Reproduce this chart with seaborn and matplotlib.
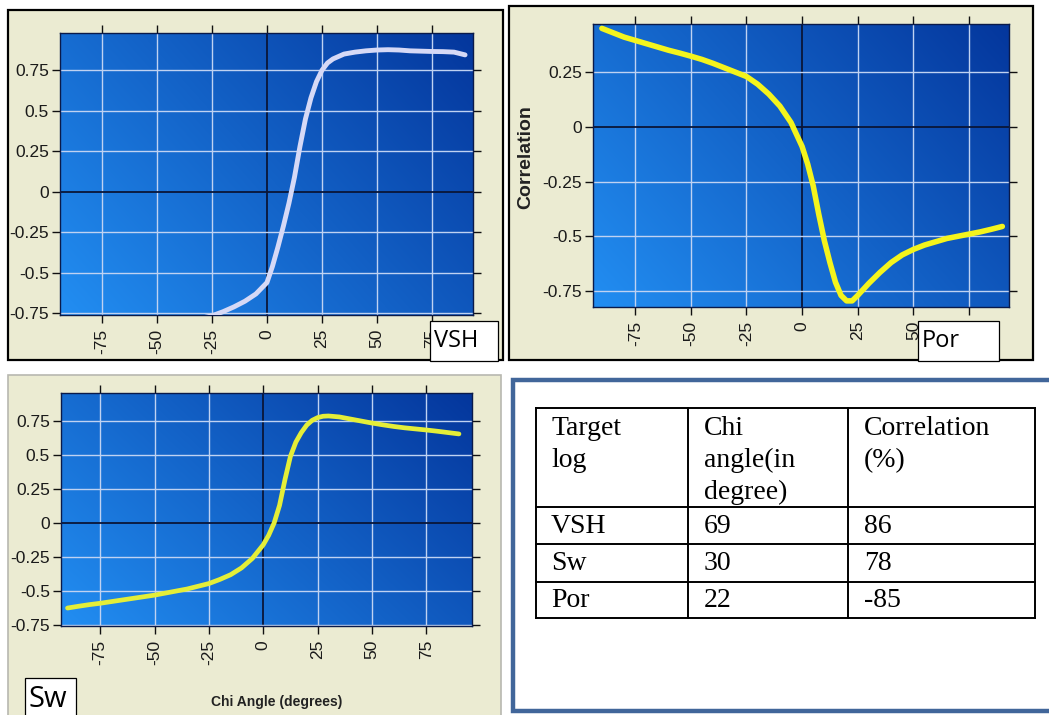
import numpy as np
import pandas as pd
import matplotlib
matplotlib.use("Agg")
import matplotlib.pyplot as plt
from matplotlib import font_manager
from matplotlib.patches import Rectangle
from matplotlib.ticker import FuncFormatter, FixedLocator
import seaborn as sns

# Correlation of the rotated attribute with each target log versus chi angle (degrees)
chi_vsh = [-35, -30, -25, -20, -15, -10, -5, 0, 2.5, 5, 7.5, 10, 12.5, 15, 17.5, 20,
           22.5, 25, 27.5, 30, 35, 40, 45, 50, 55, 60, 65, 70, 75, 80, 85, 90]
corr_vsh = [-0.80, -0.78, -0.765, -0.74, -0.71, -0.675, -0.63, -0.56, -0.46, -0.34, -0.21,
            -0.07, 0.09, 0.28, 0.45, 0.58, 0.68, 0.75, 0.795, 0.82, 0.85, 0.862, 0.87,
            0.875, 0.877, 0.875, 0.87, 0.868, 0.866, 0.865, 0.862, 0.845]

chi_por = [-90, -85, -80, -75, -70, -65, -60, -55, -50, -45, -40, -35, -30, -25, -20, -15,
           -10, -5, 0, 2.5, 5, 7.5, 10, 12.5, 15, 17.5, 20, 22.5, 25, 30, 35, 40, 45, 50,
           55, 60, 65, 70, 75, 80, 85, 90]
corr_por = [0.45, 0.43, 0.41, 0.395, 0.38, 0.365, 0.35, 0.337, 0.323, 0.308, 0.29, 0.27,
            0.25, 0.23, 0.195, 0.15, 0.095, 0.02, -0.09, -0.17, -0.27, -0.40, -0.52, -0.62,
            -0.71, -0.77, -0.795, -0.795, -0.77, -0.715, -0.665, -0.62, -0.585, -0.56,
            -0.54, -0.525, -0.51, -0.50, -0.49, -0.48, -0.468, -0.455]

chi_sw = [-90, -85, -80, -75, -70, -65, -60, -55, -50, -45, -40, -35, -30, -25, -20, -15,
          -10, -5, 0, 2.5, 5, 7.5, 10, 12.5, 15, 17.5, 20, 22.5, 25, 27.5, 30, 35, 40, 45,
          50, 55, 60, 65, 70, 75, 80, 85, 90]
corr_sw = [-0.625, -0.612, -0.60, -0.59, -0.578, -0.566, -0.554, -0.542, -0.53, -0.515,
           -0.50, -0.485, -0.465, -0.445, -0.415, -0.38, -0.33, -0.26, -0.16, -0.09, 0.0,
           0.13, 0.32, 0.49, 0.595, 0.665, 0.72, 0.755, 0.775, 0.785, 0.787, 0.78, 0.765,
           0.75, 0.735, 0.722, 0.71, 0.70, 0.692, 0.684, 0.675, 0.665, 0.655]

x_ticks = [-75, -50, -25, 0, 25, 50, 75]
y_ticks = [-0.75, -0.5, -0.25, 0, 0.25, 0.5, 0.75]

# Summary table: best chi angle and correlation per target log
table_header = [["Target", "log"], ["Chi", "angle(in", "degree)"], ["Correlation", "(%)"]]
table_logs = ["VSH", "Sw", "Por"]
table_chi = [69, 30, 22]
table_corr = [86, 78, -85]

sns.set_theme(style="white")
names = {f.name for f in font_manager.fontManager.ttflist}
tick_font = "Liberation Sans Narrow" if "Liberation Sans Narrow" in names else "Liberation Sans"
tick_size = 14 if tick_font == "Liberation Sans Narrow" else 12.5
plt.rcParams["font.family"] = ["Liberation Sans", "DejaVu Sans"]

W, H = 1049, 715
fig = plt.figure(figsize=(W / 100, H / 100), dpi=100)
fig.patch.set_facecolor("white")


def rect(x0, y0, x1, y1):
    return [x0 / W, 1 - y1 / H, (x1 - x0) / W, (y1 - y0) / H]


# background layer: panel frames
back = fig.add_axes([0, 0, 1, 1], zorder=0)
back.set_xlim(0, W)
back.set_ylim(H, 0)
back.axis("off")
beige = "#EBEBD2"
back.add_patch(Rectangle((8, 10), 495, 350, facecolor=beige, edgecolor="black", lw=1.6))
back.add_patch(Rectangle((509, 6), 524, 354, facecolor=beige, edgecolor="black", lw=1.6))
back.add_patch(Rectangle((8, 375), 493, 345, facecolor=beige, edgecolor="#B8B8B0", lw=1.2))

light = np.array([34, 142, 242]) / 255
dark = np.array([4, 54, 156]) / 255


def panel(box, xs, ys, color, lw, xlim, ylim):
    ax = fig.add_axes(rect(*box), zorder=2)
    n = 200
    gx, gy = np.meshgrid(np.linspace(0, 1, n), np.linspace(0, 1, n))
    t = np.clip(0.62 * gx + 0.38 * gy, 0, 1)[..., None]
    ax.imshow(light + (dark - light) * t, extent=(0, 1, 0, 1), transform=ax.transAxes,
              origin="lower", aspect="auto", zorder=0, interpolation="bilinear")
    for v in x_ticks:
        ax.axvline(v, color="#0A1638" if v == 0 else "#BFD2F2", lw=1.3 if v == 0 else 1.0, zorder=1)
    for v in y_ticks:
        ax.axhline(v, color="#0A1638" if v == 0 else "#BFD2F2", lw=1.3 if v == 0 else 1.0, zorder=1)
    df = pd.DataFrame({"chi": xs, "corr": ys})
    sns.lineplot(data=df, x="chi", y="corr", ax=ax, color=color, lw=lw, zorder=3,
                 solid_capstyle="round")
    ax.set_xlim(*xlim)
    ax.set_ylim(*ylim)
    ax.xaxis.set_major_locator(FixedLocator(x_ticks))
    ax.yaxis.set_major_locator(FixedLocator(y_ticks))
    ax.yaxis.set_major_formatter(FuncFormatter(lambda v, _: f"{v:g}"))
    ax.xaxis.set_major_formatter(FuncFormatter(lambda v, _: f"{v:g}"))
    ax.tick_params(axis="both", which="major", direction="out", length=6, width=1,
                   color="#111111", top=True, right=True, bottom=True, left=True,
                   labelsize=tick_size, labelcolor="#1A1A1A", pad=2)
    ax.tick_params(axis="x", pad=4, labelrotation=90)
    for lab in ax.get_xticklabels() + ax.get_yticklabels():
        lab.set_fontfamily(tick_font)
    for s in ax.spines.values():
        s.set_color("#0A1A4A")
        s.set_linewidth(1.0)
    ax.set_xlabel("")
    ax.set_ylabel("")
    return ax


ax1 = panel((60, 33, 473, 315), chi_vsh, corr_vsh, "#D6D9F6", 3.5, (-94, 93.6), (-0.76, 0.98))
ax2 = panel((593, 24, 1009, 307), chi_por, corr_por, "#F4F41C", 4.0, (-94, 93), (-0.823, 0.47))
ax3 = panel((61, 393, 472, 626), chi_sw, corr_sw, "#E4EE38", 3.4, (-93, 96), (-0.757, 0.956))

ax2.set_ylabel("Correlation", fontsize=14, fontweight="bold", color="#222222")
ax2.yaxis.set_label_coords((534 - 593) / (1009 - 593), 0.5 + (165.5 - 157) / (307 - 24))

# foreground layer: name tags, axis title and the summary table
top = fig.add_axes([0, 0, 1, 1], zorder=5)
top.set_xlim(0, W)
top.set_ylim(H, 0)
top.axis("off")
top.patch.set_alpha(0)

top.text(277, 702, "Chi Angle (degrees)", fontsize=10, fontweight="bold", color="#222222",
         ha="center", va="center")

tag_font = ["Open Sans", "DejaVu Sans"]
for (x0, y0, x1, y1), name, size, base in [((430, 321, 498, 361), "VSH", 17, 347),
                                           ((918, 321, 999, 361), "Por", 17, 347),
                                           ((25, 678, 76, 720), "Sw", 21, 707)]:
    top.add_patch(Rectangle((x0, y0), x1 - x0, y1 - y0, facecolor="white",
                            edgecolor="black", lw=0.9))
    top.text(x0 + 4, base, name, fontsize=size, family=tag_font, color="black",
             ha="left", va="baseline")

# summary table inside a framed box
top.add_patch(Rectangle((513, 380), 545, 331, facecolor="white", edgecolor="#41669A", lw=3.2))
col_x = [536, 688, 848, 1035]
row_y = [408, 507, 544, 582, 618]
for x in col_x:
    top.plot([x, x], [row_y[0], row_y[-1]], color="black", lw=1.4, solid_capstyle="projecting")
for y in row_y:
    top.plot([col_x[0], col_x[-1]], [y, y], color="black", lw=1.4, solid_capstyle="projecting")

serif = ["Liberation Serif", "DejaVu Serif"]
text_x = [551, 704, 864]
for cx, lines in zip(text_x, table_header):
    for k, line in enumerate(lines):
        top.text(cx, 435 + 32 * k, line, fontsize=20, family=serif, color="black",
                 ha="left", va="baseline")
row_base = [533, 570, 607]
for yb, name, chi, corr in zip(row_base, table_logs, table_chi, table_corr):
    for cx, val in zip(text_x, [name, str(chi), str(corr)]):
        top.text(cx, yb, val, fontsize=20, family=serif, color="black",
                 ha="left", va="baseline")

fig.savefig("out.png", dpi=100, facecolor="white")
